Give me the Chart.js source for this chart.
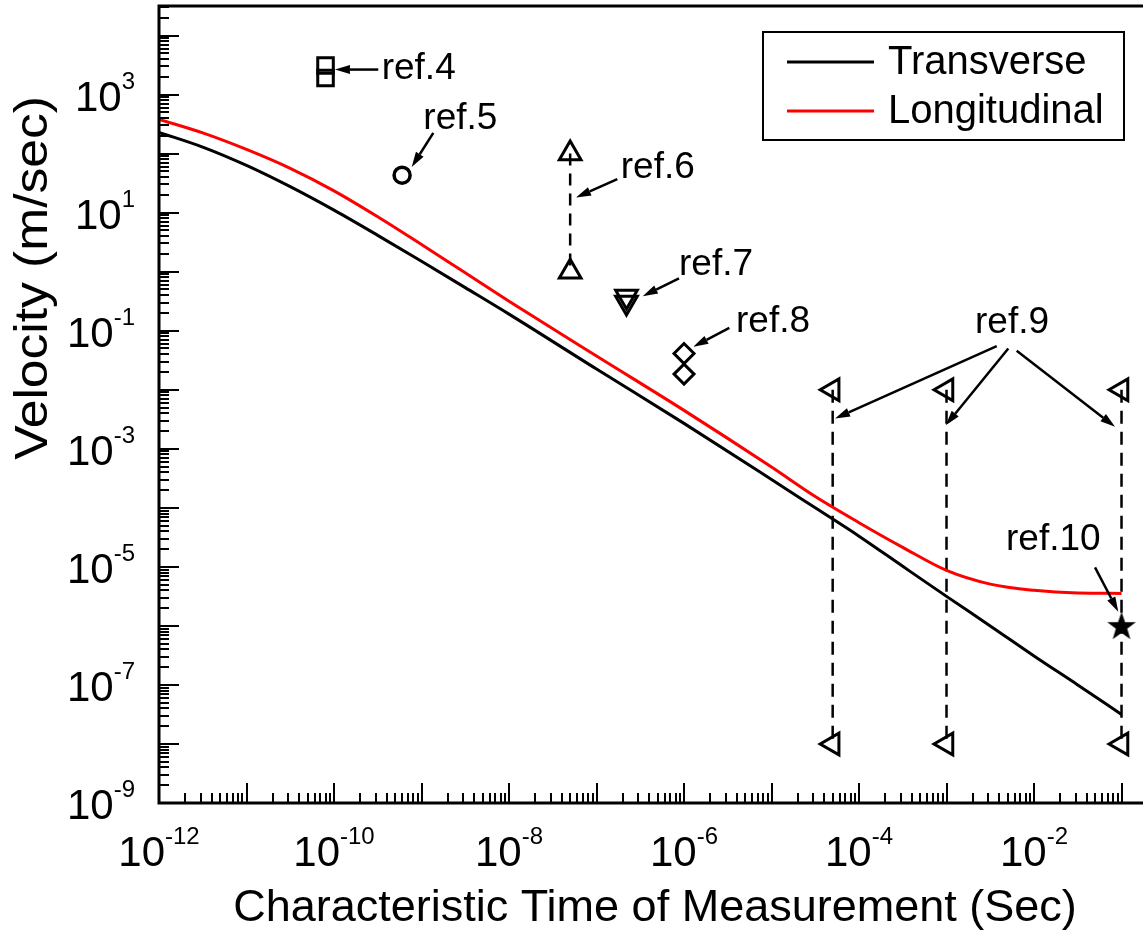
<!DOCTYPE html>
<html>
<head>
<meta charset="utf-8">
<script src="https://cdn.jsdelivr.net/npm/chart.js@4.4.1/dist/chart.umd.min.js"></script>
<style>
  html, body { margin: 0; padding: 0; background: #fff; }
  #wrap { width: 1143px; height: 938px; position: relative; }
</style>
</head>
<body>
<div id="wrap"><canvas id="velocityChart"></canvas></div>
<script>
'use strict';

// model curves: characteristic time (s) -> velocity (m/s)
var curveTime = [1e-12, 3.16e-12, 1e-11, 3.16e-11, 1e-10, 3.16e-10, 1e-9, 3.16e-9, 1e-8, 1e-7, 1e-6, 1e-5, 3.16e-5, 1e-4, 3.16e-4, 1e-3, 3.16e-3, 1e-2, 3.16e-2, 1e-1];
var transverse = [229, 129, 63.1, 27.5, 11.0, 4.12, 1.50, 0.537, 0.191, 0.0224, 2.69e-3, 3.02e-4, 1.0e-4, 3.31e-5, 1.02e-5, 3.16e-6, 1.0e-6, 3.09e-7, 1.0e-7, 3.16e-8];
var longitudinal = [380, 224, 117.5, 56.2, 23.4, 8.51, 2.88, 0.955, 0.316, 0.0372, 4.47e-3, 4.9e-4, 1.55e-4, 5.6e-5, 2.14e-5, 8.7e-6, 5.1e-6, 4.0e-6, 3.6e-6, 3.55e-6];

// experimental references
var ref4Time = [8e-11, 8e-11];
var ref4Vel = [3100, 1900];
var ref5Time = [6e-10];
var ref5Vel = [43];
var ref6Time = [5e-8, 5e-8];
var ref6Vel = [100, 1];
var ref7Time = [2.2e-7, 2.2e-7];
var ref7Vel = [0.38, 0.3];
var ref8Time = [1e-6, 1e-6];
var ref8Vel = [0.041, 0.0184];
var ref9Time = [5e-5, 1e-3, 1e-1];
var ref9High = [1e-2, 1e-2, 1e-2];
var ref9Low = [1e-8, 1e-8, 1e-8];
var ref10Time = [1e-1];
var ref10Vel = [1e-6];

// axis ranges and labelled decades
var xMin = 1e-12, xMax = 0.176;
var yMin = 1e-9, yMax = 3.16e4;
var xTickExp = [-12, -10, -8, -6, -4, -2];
var yTickExp = [3, 1, -1, -3, -5, -7, -9];

// annotation texts with arrows, positions given as log10(time), log10(velocity)
var notes = [
  { text: 'ref.4', at: [-9.455, 3.271], arrows: [[[-9.494, 3.423], [-9.989, 3.423]]] },
  { text: 'ref.5', at: [-8.979, 2.424], arrows: [[[-8.865, 2.350], [-9.112, 1.774]]] },
  { text: 'ref.6', at: [-6.723, 1.578], arrows: [[[-6.762, 1.566], [-7.234, 1.256]]] },
  { text: 'ref.7', at: [-6.057, -0.060], arrows: [[[-6.057, -0.115], [-6.472, -0.415]]] },
  { text: 'ref.8', at: [-5.406, -1.020], arrows: [[[-5.482, -0.952], [-5.894, -1.274]]] },
  { text: 'ref.9', at: [-2.674, -1.042], arrows: [
      [[-2.426, -1.262], [-4.274, -2.486]],
      [[-2.294, -1.301], [-3.009, -2.603]],
      [[-2.198, -1.341], [-1.074, -2.628]]] },
  { text: 'ref.10', at: [-2.320, -4.716], arrows: [[[-1.303, -5.009], [-1.037, -5.761]]] }
];

var FONT = '"Liberation Sans", Arial, Helvetica, sans-serif';

function pts(xs, ys) {
  return xs.map(function (x, i) { return { x: x, y: ys[i] }; });
}

function makeStar(r) {
  var s = Math.ceil(r * 2 + 2);
  var c = document.createElement('canvas');
  c.width = s; c.height = s;
  var g = c.getContext('2d');
  g.fillStyle = '#000';
  g.beginPath();
  for (var i = 0; i < 10; i++) {
    var rr = i % 2 ? r * 0.4 : r;
    var a = -Math.PI / 2 + i * Math.PI / 5;
    g.lineTo(s / 2 + rr * Math.cos(a), s / 2 + 1 + rr * Math.sin(a));
  }
  g.closePath();
  g.fill();
  return c;
}

function marker(data, style, radius, extra) {
  var ds = {
    data: data,
    showLine: false,
    pointStyle: style,
    pointRadius: radius,
    pointHoverRadius: radius,
    pointBorderWidth: 3,
    pointBorderColor: '#000',
    pointBackgroundColor: 'rgba(0,0,0,0)',
    borderColor: '#000',
    clip: false
  };
  return Object.assign(ds, extra || {});
}

function dropLine(x, hi, lo) {
  return marker(pts([x, x], [hi, lo]), 'triangle', 12.5, {
    showLine: true,
    borderWidth: 2.5,
    borderDash: [13, 8],
    pointRotation: 270
  });
}

function drawPow(ctx, exp, x, y, align) {
  var big = '42px ' + FONT, small = '24px ' + FONT;
  ctx.font = big;
  var wb = ctx.measureText('10').width;
  ctx.font = small;
  var we = ctx.measureText(String(exp)).width;
  var left = align === 'right' ? x - wb - we : x - (wb + we) / 2;
  ctx.textAlign = 'left';
  ctx.textBaseline = 'alphabetic';
  ctx.font = big;
  ctx.fillText('10', left, y);
  ctx.font = small;
  ctx.fillText(String(exp), left + wb, y - 22);
}

function drawArrow(ctx, x1, y1, x2, y2) {
  var ang = Math.atan2(y2 - y1, x2 - x1);
  var len = 15, hw = 4.5;
  var bx = x2 - len * Math.cos(ang), by = y2 - len * Math.sin(ang);
  ctx.beginPath();
  ctx.moveTo(x1, y1);
  ctx.lineTo(bx, by);
  ctx.stroke();
  ctx.beginPath();
  ctx.moveTo(x2, y2);
  ctx.lineTo(bx + hw * Math.sin(ang), by - hw * Math.cos(ang));
  ctx.lineTo(bx - hw * Math.sin(ang), by + hw * Math.cos(ang));
  ctx.closePath();
  ctx.fill();
}

var decorations = {
  id: 'decorations',
  afterDraw: function (chart) {
    var ctx = chart.ctx, a = chart.chartArea;
    var xs = chart.scales.x, ys = chart.scales.y;
    var X = function (l) { return xs.getPixelForValue(Math.pow(10, l)); };
    var Y = function (l) { return ys.getPixelForValue(Math.pow(10, l)); };
    ctx.save();
    ctx.fillStyle = '#000';
    ctx.strokeStyle = '#000';

    // inward ticks
    ctx.lineWidth = 2;
    var d, m, v, p;
    for (d = -12; d <= 0; d++) {
      for (m = 1; m <= 9; m++) {
        v = m * Math.pow(10, d);
        if (v < xMin || v > xMax) continue;
        p = Math.round(xs.getPixelForValue(v));
        ctx.beginPath();
        ctx.moveTo(p, a.bottom);
        ctx.lineTo(p, a.bottom - (m === 1 ? 20 : 10));
        ctx.stroke();
      }
    }
    for (d = -9; d <= 4; d++) {
      for (m = 1; m <= 9; m++) {
        v = m * Math.pow(10, d);
        if (v < yMin || v > yMax) continue;
        p = Math.round(ys.getPixelForValue(v));
        ctx.beginPath();
        ctx.moveTo(a.left, p);
        ctx.lineTo(a.left + (m === 1 ? 20 : 10), p);
        ctx.stroke();
      }
    }

    // frame
    ctx.lineWidth = 3;
    ctx.lineCap = 'square';
    ctx.beginPath();
    ctx.moveTo(a.right + 2, a.top);
    ctx.lineTo(a.left, a.top);
    ctx.lineTo(a.left, a.bottom);
    ctx.lineTo(a.right + 2, a.bottom);
    ctx.stroke();
    ctx.lineCap = 'butt';

    // tick labels
    xTickExp.forEach(function (e) { drawPow(ctx, e, X(e), a.bottom + 63, 'center'); });
    yTickExp.forEach(function (e) { drawPow(ctx, e, a.left - 24, Y(e) + 16, 'right'); });

    // axis titles
    ctx.font = '45px ' + FONT;
    ctx.textAlign = 'center';
    ctx.textBaseline = 'alphabetic';
    ctx.fillText('Characteristic Time of Measurement (Sec)', 655, 921);
    ctx.save();
    ctx.translate(47, 278);
    ctx.rotate(-Math.PI / 2);
    ctx.scale(1.12, 1);
    ctx.font = '46px ' + FONT;
    ctx.fillText('Velocity (m/sec)', 0, 0);
    ctx.restore();

    // annotations
    ctx.font = '37px ' + FONT;
    ctx.textAlign = 'left';
    ctx.lineWidth = 2.5;
    notes.forEach(function (n) {
      ctx.fillText(n.text, X(n.at[0]), Y(n.at[1]));
      n.arrows.forEach(function (ar) {
        drawArrow(ctx, X(ar[0][0]), Y(ar[0][1]), X(ar[1][0]), Y(ar[1][1]));
      });
    });

    // legend
    ctx.fillStyle = '#fff';
    ctx.fillRect(763, 32, 361, 108);
    ctx.lineWidth = 2;
    ctx.strokeStyle = '#000';
    ctx.strokeRect(763, 32, 361, 108);
    var items = [['Transverse', '#000', 62], ['Longitudinal', '#ff0000', 111]];
    ctx.font = '40px ' + FONT;
    ctx.textBaseline = 'middle';
    items.forEach(function (it) {
      ctx.strokeStyle = it[1];
      ctx.lineWidth = 3;
      ctx.beginPath();
      ctx.moveTo(787, it[2]);
      ctx.lineTo(874, it[2]);
      ctx.stroke();
      ctx.fillStyle = '#000';
      ctx.fillText(it[0], 888, it[2] + 1);
    });
    ctx.restore();
  }
};

var ctxEl = document.getElementById('velocityChart').getContext('2d');
var velocityChart = new Chart(ctxEl, {
  type: 'scatter',
  data: {
    datasets: [
      {
        label: 'Transverse',
        data: pts(curveTime, transverse),
        showLine: true,
        borderColor: '#000',
        borderWidth: 3,
        pointRadius: 0,
        cubicInterpolationMode: 'monotone'
      },
      {
        label: 'Longitudinal',
        data: pts(curveTime, longitudinal),
        showLine: true,
        borderColor: '#ff0000',
        borderWidth: 3,
        pointRadius: 0,
        cubicInterpolationMode: 'monotone'
      },
      marker(pts(ref4Time, ref4Vel), 'rect', 11),
      marker(pts(ref5Time, ref5Vel), 'circle', 8, { pointBorderWidth: 3.5 }),
      marker(pts(ref6Time, ref6Vel), 'triangle', 12.5, { showLine: true, borderWidth: 2.5, borderDash: [12, 8] }),
      marker(pts(ref7Time, ref7Vel), 'triangle', 12.5, { pointRotation: 180 }),
      marker(pts(ref8Time, ref8Vel), 'rectRot', 10),
      dropLine(ref9Time[0], ref9High[0], ref9Low[0]),
      dropLine(ref9Time[1], ref9High[1], ref9Low[1]),
      dropLine(ref9Time[2], ref9High[2], ref9Low[2]),
      marker(pts(ref10Time, ref10Vel), makeStar(15), 8)
    ]
  },
  options: {
    responsive: true,
    maintainAspectRatio: false,
    animation: false,
    layout: { autoPadding: false, padding: { left: 159, top: 6, right: 0, bottom: 135 } },
    plugins: { legend: { display: false }, tooltip: { enabled: false } },
    scales: {
      x: { type: 'logarithmic', min: xMin, max: xMax, display: false },
      y: { type: 'logarithmic', min: yMin, max: yMax, display: false }
    }
  },
  plugins: [decorations]
});
</script>
</body>
</html>
